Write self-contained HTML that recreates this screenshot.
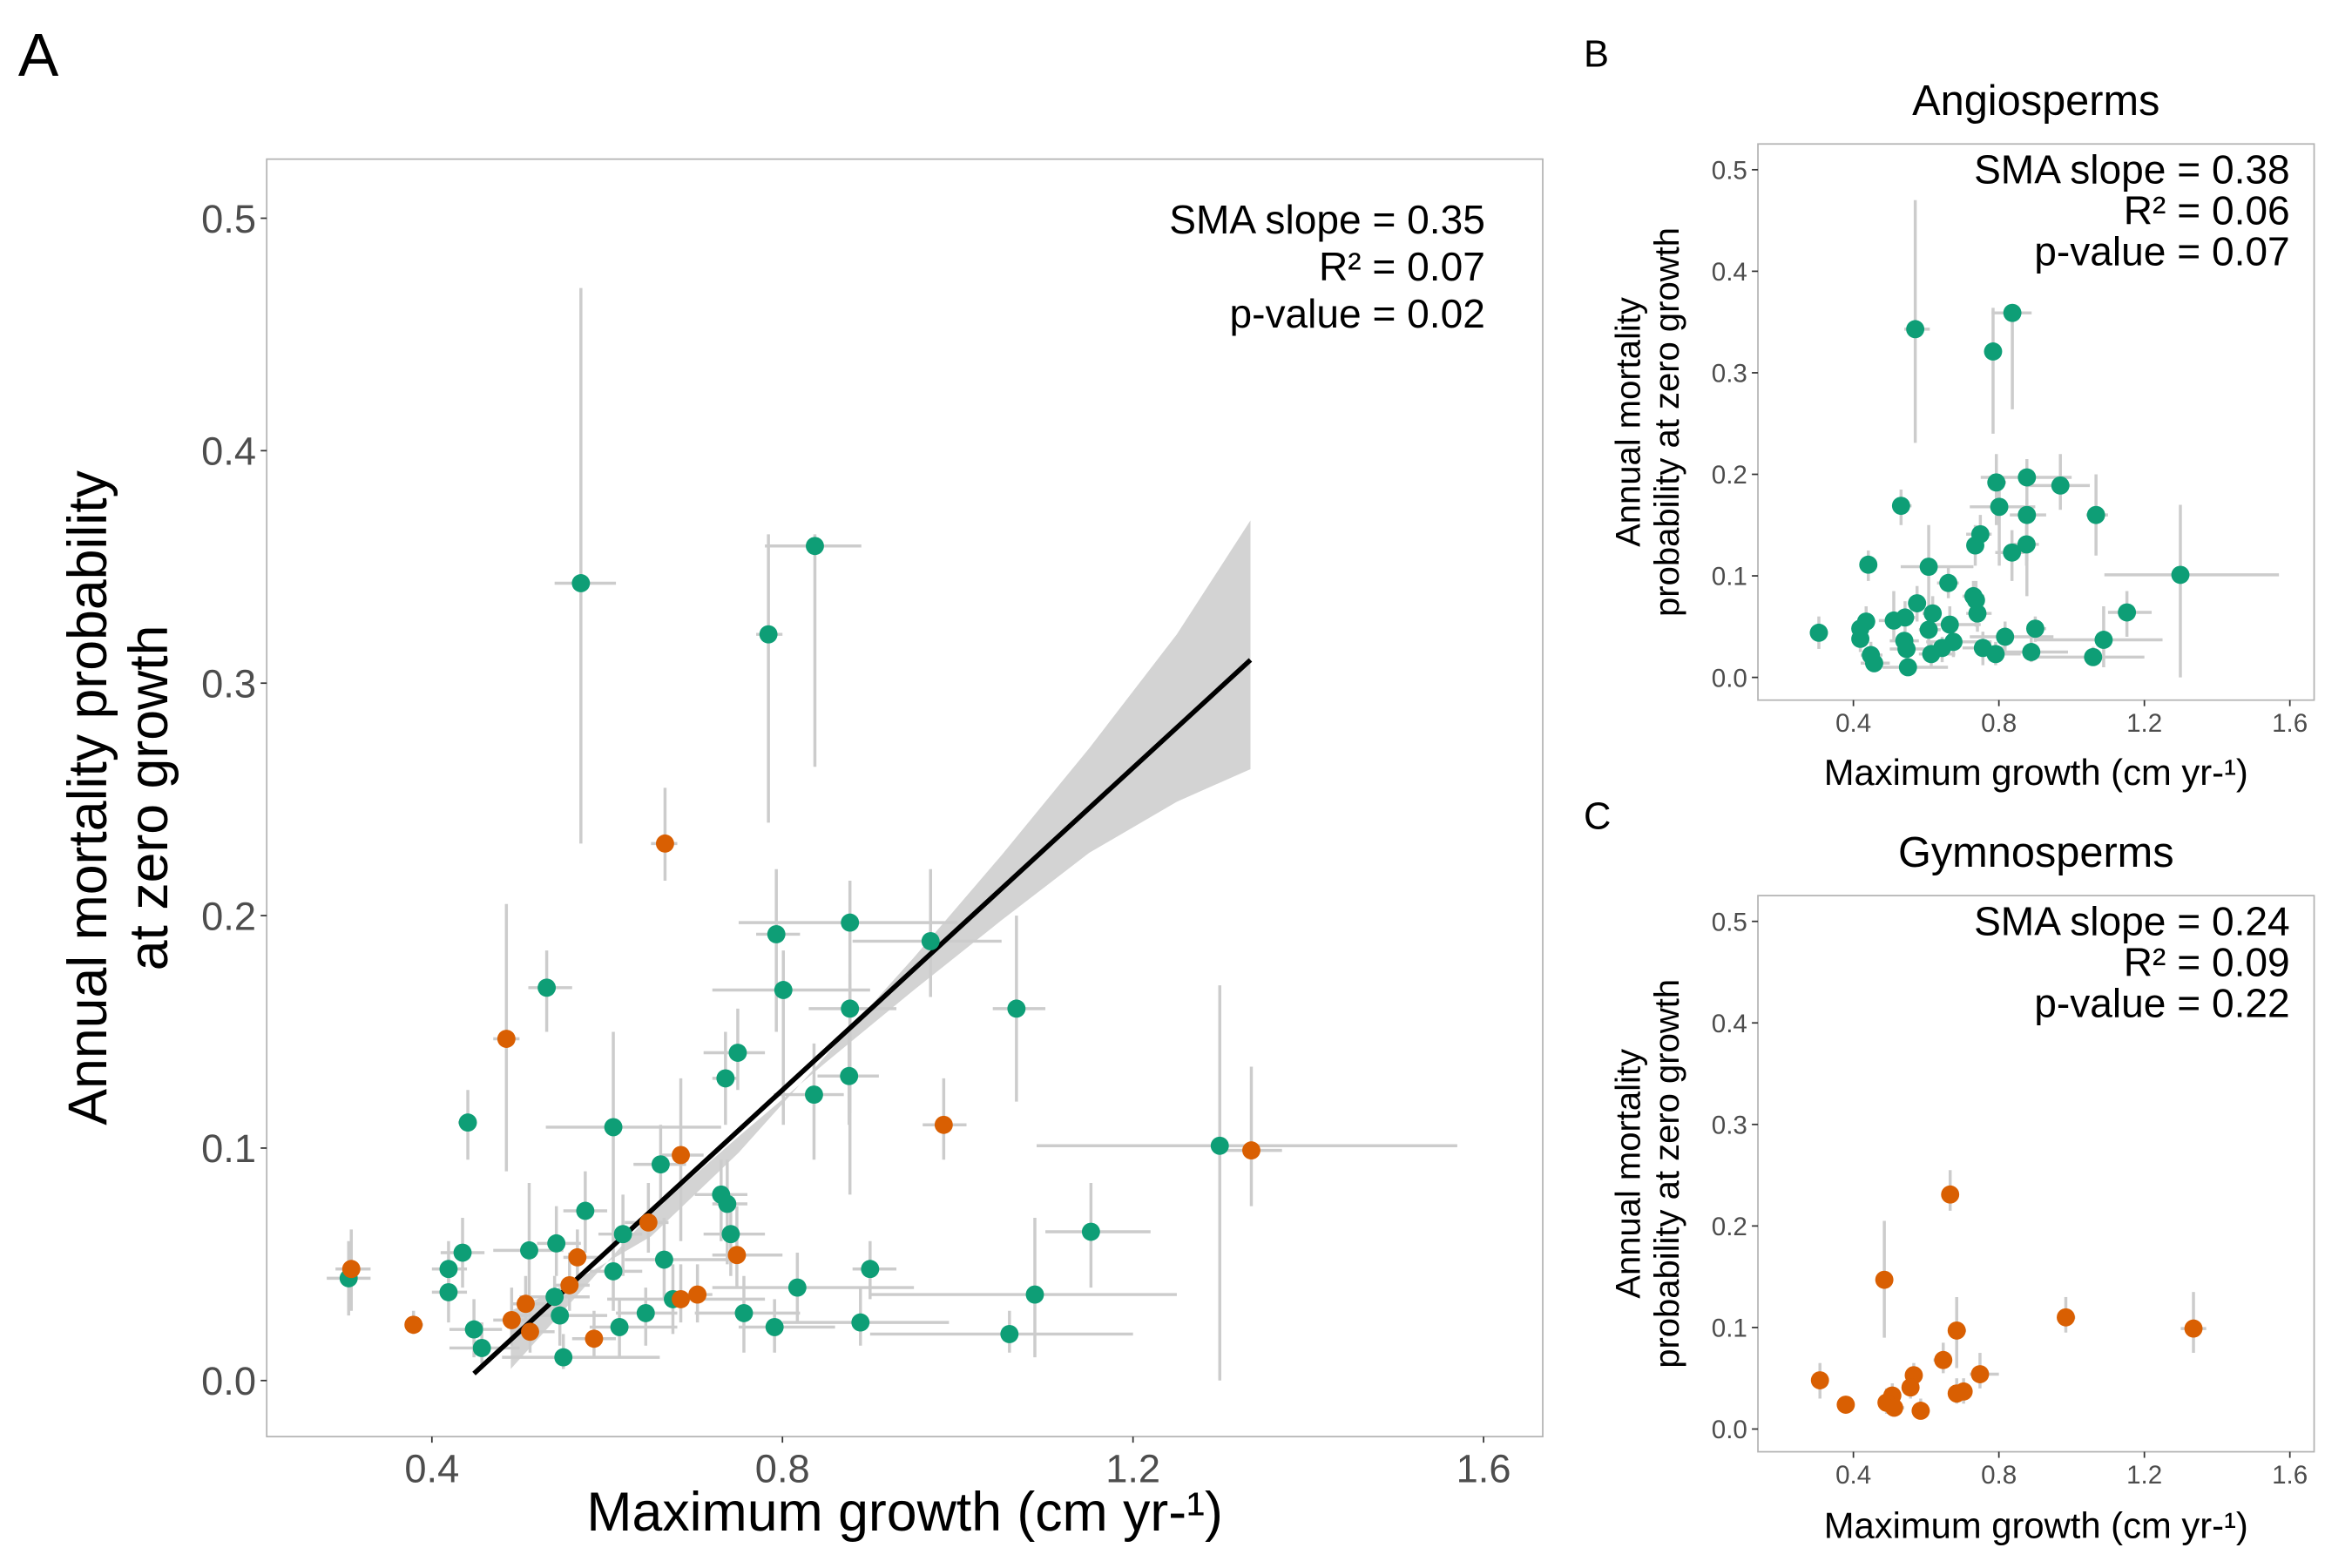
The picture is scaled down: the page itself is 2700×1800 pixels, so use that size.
<!DOCTYPE html>
<html><head><meta charset="utf-8"><style>
html,body{margin:0;padding:0;background:#fff;}
svg{display:block;font-family:"Liberation Sans",sans-serif;}
</style></head><body>
<svg id="chart" width="2700" height="1800" viewBox="0 0 1552 1034.7" preserveAspectRatio="none" xmlns="http://www.w3.org/2000/svg"></svg>
<script>
// ---- data (green = angiosperms, orange = gymnosperms) ----
const gX  =[0.305,0.57,0.837,0.784,0.531,0.441,0.607,0.793,0.877,0.801,0.877,0.969,1.067,0.749,0.735,0.876,0.836,1.299,0.661,0.575,0.730,0.737,0.618,1.152,0.435,0.542,0.511,0.741,0.665,0.419,0.607,0.900,0.419,0.817,0.540,0.675,1.088,0.644,0.756,0.546,0.614,0.448,0.791,0.889,1.059,0.457,0.550];
const gY  =[0.044,0.343,0.359,0.321,0.169,0.111,0.109,0.192,0.197,0.168,0.160,0.189,0.160,0.141,0.130,0.131,0.123,0.101,0.093,0.073,0.080,0.076,0.063,0.064,0.055,0.059,0.056,0.063,0.052,0.048,0.047,0.048,0.038,0.040,0.036,0.035,0.037,0.029,0.029,0.028,0.023,0.022,0.023,0.025,0.020,0.014,0.010];
const gXlo=[0.28,0.54,0.78,0.77,0.51,0.43,0.53,0.77,0.75,0.72,0.83,0.88,1.04,0.71,0.72,0.84,0.79,1.09,0.63,0.55,0.70,0.72,0.59,1.10,0.41,0.52,0.47,0.71,0.62,0.40,0.58,0.88,0.40,0.72,0.50,0.60,0.90,0.61,0.70,0.50,0.58,0.42,0.75,0.80,0.90,0.42,0.48];
const gXhi=[0.33,0.61,0.89,0.80,0.56,0.45,0.73,0.82,1.00,0.90,0.93,1.05,1.10,0.78,0.75,0.91,0.87,1.57,0.69,0.60,0.76,0.76,0.64,1.22,0.46,0.57,0.55,0.78,0.75,0.44,0.64,0.93,0.44,0.95,0.58,0.78,1.25,0.68,0.82,0.60,0.68,0.48,0.86,0.99,1.20,0.50,0.66];
const gYlo=[0.028,0.231,0.264,0.240,0.150,0.095,0.060,0.150,0.080,0.110,0.115,0.165,0.120,0.125,0.110,0.110,0.095,0.000,0.078,0.055,0.060,0.050,0.045,0.040,0.040,0.045,0.035,0.045,0.035,0.035,0.030,0.035,0.025,0.025,0.025,0.020,0.010,0.015,0.012,0.015,0.010,0.010,0.012,0.015,0.012,0.005,0.005];
const gYhi=[0.060,0.470,0.364,0.364,0.185,0.125,0.150,0.220,0.215,0.185,0.175,0.220,0.200,0.160,0.150,0.150,0.145,0.170,0.110,0.090,0.095,0.095,0.080,0.085,0.070,0.075,0.085,0.080,0.070,0.060,0.065,0.060,0.050,0.055,0.045,0.050,0.070,0.040,0.045,0.040,0.035,0.035,0.035,0.040,0.030,0.025,0.020];
const oX  =[0.308,0.379,0.666,0.485,0.984,1.335,0.684,0.647,0.566,0.748,0.557,0.507,0.491,0.512,0.585,0.703,0.684];
const oY  =[0.048,0.024,0.231,0.147,0.110,0.099,0.097,0.068,0.053,0.054,0.041,0.033,0.026,0.021,0.018,0.037,0.035];
const oXlo=[0.29,0.37,0.65,0.47,0.96,1.30,0.66,0.62,0.55,0.72,0.54,0.49,0.47,0.49,0.56,0.68,0.66];
const oXhi=[0.33,0.39,0.68,0.50,1.01,1.37,0.71,0.67,0.59,0.80,0.58,0.53,0.51,0.54,0.61,0.72,0.70];
const oYlo=[0.030,0.020,0.215,0.090,0.095,0.075,0.060,0.055,0.040,0.040,0.030,0.020,0.015,0.012,0.010,0.025,0.025];
const oYhi=[0.065,0.030,0.255,0.205,0.130,0.135,0.130,0.085,0.065,0.075,0.055,0.045,0.040,0.030,0.030,0.050,0.050];
const fitX=[0.448,1.334];
const fitY=[0.003,0.310];
const ciX=[0.49,0.55,0.65,0.75,0.85,0.95,1.05,1.15,1.25,1.334];
const ciLo=[0.005,0.030,0.072,0.105,0.137,0.168,0.198,0.227,0.249,0.263];
const ciHi=[0.030,0.040,0.062,0.098,0.140,0.182,0.226,0.272,0.321,0.370];
const xTicks=[0.4,0.8,1.2,1.6];
const yTicks=[0.0,0.1,0.2,0.3,0.4,0.5];
const xTickLabels=["0.4","0.8","1.2","1.6"];
const yTickLabels=["0.0","0.1","0.2","0.3","0.4","0.5"];

const NS="http://www.w3.org/2000/svg";
const svg=document.getElementById('chart');
function mk(tag,attrs,parent,text){const e=document.createElementNS(NS,tag);for(const k in attrs)e.setAttribute(k,attrs[k]);if(text!==undefined)e.textContent=text;(parent||svg).appendChild(e);return e;}
const GREEN="#0e9e76", ORANGE="#d95f02", ERR="#cccccc";

function panel(p){
  const g=mk('g',{});
  
  
  const sx=v=>p.x0+(v-0.4)*p.kx, sy=v=>p.y0-v*p.ky;
  const box=mk('rect',{x:p.bx,y:p.by,width:p.bw,height:p.bh,fill:'none',stroke:'#b3b3b3','stroke-width':1},g);
  
  xTicks.forEach((t,i)=>{
    const l=mk('line',{x1:sx(t),x2:sx(t),y1:p.by+p.bh,y2:p.by+p.bh+4,stroke:'#333','stroke-width':1},g);
    
    const tx=mk('text',{x:sx(t),y:p.by+p.bh+p.tf+4,'font-size':p.tf,fill:'#4d4d4d','text-anchor':'middle'},g,xTickLabels[i]);
    
  });
  yTicks.forEach((t,i)=>{
    const l=mk('line',{x1:p.bx-4,x2:p.bx,y1:sy(t),y2:sy(t),stroke:'#333','stroke-width':1},g);
    
    const tx=mk('text',{x:p.bx-7,y:sy(t)+p.tf*0.36,'font-size':p.tf,fill:'#4d4d4d','text-anchor':'end'},g,yTickLabels[i]);
    
  });
  if(p.band){
    let pts=ciX.map((x,i)=>sx(x)+','+sy(ciHi[i]));
    pts=pts.concat(ciX.slice().reverse().map((x,i)=>sx(x)+','+sy(ciLo[ciX.length-1-i])));
    const b=mk('polygon',{points:pts.join(' '),fill:'#d3d3d3'},g);
    
  }
  const sets=[];
  if(p.green)sets.push([gX,gY,gXlo,gXhi,gYlo,gYhi,GREEN,'angiosperm']);
  if(p.orange)sets.push([oX,oY,oXlo,oXhi,oYlo,oYhi,ORANGE,'gymnosperm']);
  sets.forEach(s=>{s[0].forEach((x,i)=>{
    const a=mk('line',{x1:sx(s[2][i]),x2:sx(s[3][i]),y1:sy(s[1][i]),y2:sy(s[1][i]),stroke:ERR,'stroke-width':2},g);
    
    const b=mk('line',{x1:sx(x),x2:sx(x),y1:sy(s[4][i]),y2:sy(s[5][i]),stroke:ERR,'stroke-width':2},g);
    
  });});
  if(p.band){
    const f=mk('line',{x1:sx(fitX[0]),y1:sy(fitY[0]),x2:sx(fitX[1]),y2:sy(fitY[1]),stroke:'#000','stroke-width':3.2},g);
    
  }
  sets.forEach(s=>{s[0].forEach((x,i)=>{
    const c=mk('circle',{cx:sx(x),cy:sy(s[1][i]),r:p.r,fill:s[6]},g);
    
  });});
  p.stats.forEach((t,i)=>{
    const tx=mk('text',{x:p.bx+p.bw-p.sp,y:p.by+p.sy0+i*p.sl,'font-size':p.sf,fill:'#000','text-anchor':'end'},g,t);
    
  });
  const xt=mk('text',{x:p.bx+p.bw/2,y:p.xty,'font-size':p.af,fill:'#000','text-anchor':'middle'},g,'Maximum growth (cm yr-\u00B9)');
  
  const cy=p.by+p.bh/2;
  const yt=mk('text',{x:0,y:0,'font-size':p.yf,fill:'#000','text-anchor':'middle',transform:`translate(${p.ytx},${cy}) rotate(-90)`},g);
  
  mk('tspan',{x:0,dy:0},yt,'Annual mortality');
  mk('tspan',{x:0,dy:p.yf*1.12},yt,'probability at zero growth');
  if(p.longY){yt.firstChild.textContent='Annual mortality probability';yt.lastChild.textContent='at zero growth';}
  if(p.title){const tt=mk('text',{x:p.bx+p.bw/2,y:p.by-19,'font-size':28,fill:'#000','text-anchor':'middle'},g,p.title);
    }
  const lb=mk('text',{x:p.lx,y:p.ly,'font-size':p.lf,fill:'#000'},g,p.label);
  
}
panel({name:'panel-a',x0:285,kx:578.3,y0:911,ky:1534,bx:176,by:105,bw:842,bh:843,tf:26,r:6,band:true,green:true,orange:true,
  stats:['SMA slope = 0.35','R\u00B2 = 0.07','p-value = 0.02'],sp:38,sy0:49,sl:31,sf:26.5,af:36,yf:36,xty:1010,ytx:70,longY:true,
  label:'A',lx:12,ly:50,lf:40});
panel({name:'panel-b',x0:1223,kx:240,y0:447,ky:670,bx:1160,by:95,bw:367,bh:367,tf:17,r:6,green:true,
  stats:['SMA slope = 0.38','R\u00B2 = 0.06','p-value = 0.07'],sp:16,sy0:26,sl:27,sf:26.5,af:24,yf:23,xty:518,ytx:1082,
  title:'Angiosperms',label:'B',lx:1045,ly:44,lf:25});
panel({name:'panel-c',x0:1223,kx:240,y0:943,ky:670,bx:1160,by:591,bw:367,bh:367,tf:17,r:6,orange:true,
  stats:['SMA slope = 0.24','R\u00B2 = 0.09','p-value = 0.22'],sp:16,sy0:26,sl:27,sf:26.5,af:24,yf:23,xty:1015,ytx:1082,
  title:'Gymnosperms',label:'C',lx:1045,ly:547,lf:25});
</script>
</body></html>
